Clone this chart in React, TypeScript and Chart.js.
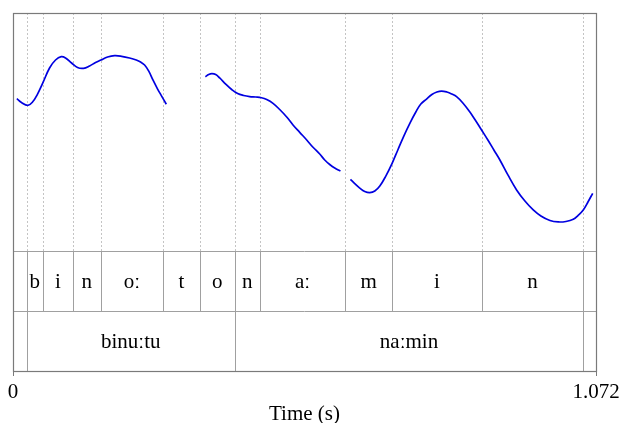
import React, { useEffect, useRef } from "react";
import { Chart, registerables } from "chart.js";

Chart.register(...registerables);

// Time span of the recording (s)
const DURATION = 1.072;

// Pitch contour (time in s, F0 in Hz); null marks unvoiced gaps
const pitchTimes: number[] = [
  0.0070, 0.0156, 0.0272, 0.0359, 0.0451, 0.0548, 0.0672, 0.0782, 0.0887, 0.0966,
  0.1077, 0.1187, 0.1297, 0.1408, 0.1518, 0.1616, 0.1739, 0.1868, 0.1997, 0.2144,
  0.2267, 0.2346, 0.2420, 0.2494, 0.2573, 0.2659, 0.2733, 0.2819,
  0.3200,
  0.3537, 0.3598, 0.3658, 0.3727, 0.3800, 0.3911, 0.4021, 0.4131, 0.4242, 0.4352,
  0.4463, 0.4568, 0.4665, 0.4781, 0.4904, 0.5033, 0.5149, 0.5272, 0.5401, 0.5512,
  0.5640, 0.5732, 0.5824, 0.5916, 0.6021,
  0.6110,
  0.6205, 0.6284, 0.6376, 0.6468, 0.6561, 0.6653, 0.6745, 0.6855, 0.6971, 0.7076,
  0.7186, 0.7297, 0.7407, 0.7499, 0.7604, 0.7702, 0.7794, 0.7880, 0.7978, 0.8070,
  0.8156, 0.8272, 0.8401, 0.8511, 0.8616, 0.8732, 0.8842, 0.8953, 0.9100, 0.9260,
  0.9413, 0.9566, 0.9707, 0.9873, 1.0026, 1.0167, 1.0302, 1.0388, 1.0486, 1.0572,
  1.0659,
];

const pitchHz: (number | null)[] = [
  228.0, 224.8, 222.4, 225.2, 231.9, 241.2, 253.8, 260.5, 263.3, 262.2,
  258.0, 254.2, 253.5, 255.5, 258.4, 260.5, 263.0, 264.1, 263.6, 262.2,
  260.5, 258.8, 256.3, 251.3, 243.7, 236.1, 230.2, 223.3,
  null,
  246.5, 248.3, 249.0, 248.3, 245.4, 240.3, 235.7, 232.3, 230.7, 229.8,
  229.4, 228.8, 227.3, 224.1, 218.9, 212.6, 205.9, 199.7, 193.3, 187.4,
  181.5, 176.5, 172.7, 169.7, 167.2,
  null,
  160.2, 156.7, 152.9, 150.0, 149.0, 150.4, 154.6, 163.0, 173.7, 184.9,
  196.6, 207.3, 216.8, 223.5, 227.7, 231.5, 233.6, 234.4, 233.6, 231.9,
  229.7, 224.4, 216.8, 209.2, 201.7, 193.3, 184.9, 176.5, 163.9, 151.3,
  142.0, 134.5, 129.4, 125.6, 124.4, 124.8, 126.6, 129.8, 134.5, 141.2,
  148.5,
];

// Pitch range shown in the upper pane (Hz)
const PITCH_MIN = 100;
const PITCH_MAX = 300;

// Phone tier: interval boundaries (s) and labels of the intervals between them
const phoneBounds: number[] = [
  0.0254, 0.0548, 0.1100, 0.1616, 0.2757, 0.3438, 0.4076, 0.4542, 0.6106, 0.6971, 0.8616, 1.0486,
];
const phoneLabels: string[] = ["", "b", "i", "n", "oː", "t", "o", "n", "aː", "m", "i", "n", ""];

// Word tier
const wordBounds: number[] = [0.0254, 0.4076, 1.0486];
const wordLabels: string[] = ["", "binuːtu", "naːmin", ""];

// Axis ticks
const timeTicks: number[] = [0, DURATION];
const timeTickLabels: string[] = ["0", "1.072"];

const FONT = "'Liberation Serif', 'Times New Roman', Times, serif";
const FONT_SIZE = 21;
const FRAME = "#7a7a7a";
const TIER_LINE = "#a0a0a0";
const DOT_LINE = "#c4c4c4";

// Share of the plot height taken by the pitch pane (the rest is split between two tiers)
const PITCH_SHARE = 238 / 358;
// Height reserved under the plot for the time axis
const X_AXIS_HEIGHT = 52;

const tierPlugin = {
  id: "textgridTiers",
  beforeDatasetsDraw(chart: any) {
    const { ctx, chartArea, scales } = chart;
    const x = scales.x;
    const paneBottom = scales.y.getPixelForValue(PITCH_MIN);
    const tierH = (chartArea.bottom - paneBottom) / 2;
    const tier1Top = paneBottom;
    const tier2Top = paneBottom + tierH;

    ctx.save();
    // dotted boundary guides through the pitch pane
    ctx.strokeStyle = DOT_LINE;
    ctx.lineWidth = 1;
    ctx.setLineDash([2, 2]);
    for (const b of phoneBounds) {
      const px = Math.round(x.getPixelForValue(b)) + 0.5;
      ctx.beginPath();
      ctx.moveTo(px, chartArea.top);
      ctx.lineTo(px, paneBottom);
      ctx.stroke();
    }
    ctx.setLineDash([]);

    // tier separators
    ctx.strokeStyle = TIER_LINE;
    for (const yy of [tier1Top, tier2Top]) {
      const py = Math.round(yy) + 0.5;
      ctx.beginPath();
      ctx.moveTo(chartArea.left, py);
      ctx.lineTo(chartArea.right, py);
      ctx.stroke();
    }

    const drawTier = (bounds: number[], labels: string[], top: number) => {
      ctx.strokeStyle = TIER_LINE;
      for (const b of bounds) {
        const px = Math.round(x.getPixelForValue(b)) + 0.5;
        ctx.beginPath();
        ctx.moveTo(px, top);
        ctx.lineTo(px, top + tierH);
        ctx.stroke();
      }
      const edges = [0, ...bounds, DURATION];
      ctx.fillStyle = "#000";
      ctx.font = `${FONT_SIZE}px ${FONT}`;
      ctx.textAlign = "center";
      ctx.textBaseline = "alphabetic";
      labels.forEach((lab, i) => {
        if (!lab) return;
        const cx = (x.getPixelForValue(edges[i]) + x.getPixelForValue(edges[i + 1])) / 2;
        ctx.fillText(lab, cx, top + tierH / 2 + 6.5);
      });
    };
    drawTier(phoneBounds, phoneLabels, tier1Top);
    drawTier(wordBounds, wordLabels, tier2Top);
    ctx.restore();
  },
  afterDraw(chart: any) {
    const { ctx, chartArea } = chart;
    ctx.save();
    ctx.strokeStyle = FRAME;
    ctx.lineWidth = 1.2;
    ctx.strokeRect(
      Math.round(chartArea.left) + 0.5,
      Math.round(chartArea.top) + 0.5,
      Math.round(chartArea.right - chartArea.left),
      Math.round(chartArea.bottom - chartArea.top)
    );
    ctx.restore();
  },
};

export default function App() {
  const canvasRef = useRef<HTMLCanvasElement | null>(null);

  useEffect(() => {
    if (!canvasRef.current) return;
    const points = pitchTimes.map((t, i) => ({ x: t, y: pitchHz[i] }));
    const chart = new Chart(canvasRef.current, {
      type: "line",
      data: {
        datasets: [
          {
            data: points as any,
            borderColor: "#0000e0",
            borderWidth: 1.7,
            pointRadius: 0,
            tension: 0.4,
            spanGaps: false,
            fill: false,
          },
        ],
      },
      options: {
        animation: false,
        responsive: false,
        maintainAspectRatio: false,
        layout: { padding: { left: 13, right: 25, top: 13, bottom: 0 } },
        plugins: {
          legend: { display: false },
          tooltip: { enabled: false },
        },
        scales: {
          x: {
            type: "linear",
            min: 0,
            max: DURATION,
            afterBuildTicks: (axis: any) => {
              axis.ticks = timeTicks.map((v) => ({ value: v }));
            },
            afterFit: (axis: any) => {
              // edge labels may overhang the plot; keep the plot width fixed
              axis.height = X_AXIS_HEIGHT;
              axis.paddingLeft = 0;
              axis.paddingRight = 0;
            },
            ticks: {
              autoSkip: false,
              maxRotation: 0,
              padding: 4,
              color: "#000",
              font: { family: FONT, size: FONT_SIZE, lineHeight: 1.2 },
              callback: (v: any) => {
                const i = timeTicks.indexOf(Number(v));
                return i >= 0 ? timeTickLabels[i] : "";
              },
            },
            grid: {
              display: true,
              drawOnChartArea: false,
              drawTicks: true,
              tickLength: 5,
              color: FRAME,
            },
            border: { display: false },
            title: {
              display: true,
              text: "Time (s)",
              color: "#000",
              font: { family: FONT, size: FONT_SIZE, lineHeight: 0.81 },
              padding: { top: 0, bottom: 0 },
            },
          },
          y: {
            type: "linear",
            display: false,
            max: PITCH_MAX,
            min: PITCH_MAX - (PITCH_MAX - PITCH_MIN) / PITCH_SHARE,
          },
        },
      },
      plugins: [tierPlugin],
    });
    return () => chart.destroy();
  }, []);

  return (
    <div style={{ position: "fixed", left: 0, top: 0, width: 621, height: 423, background: "#fff" }}>
      <canvas ref={canvasRef} width={621} height={423} style={{ display: "block" }} />
    </div>
  );
}
